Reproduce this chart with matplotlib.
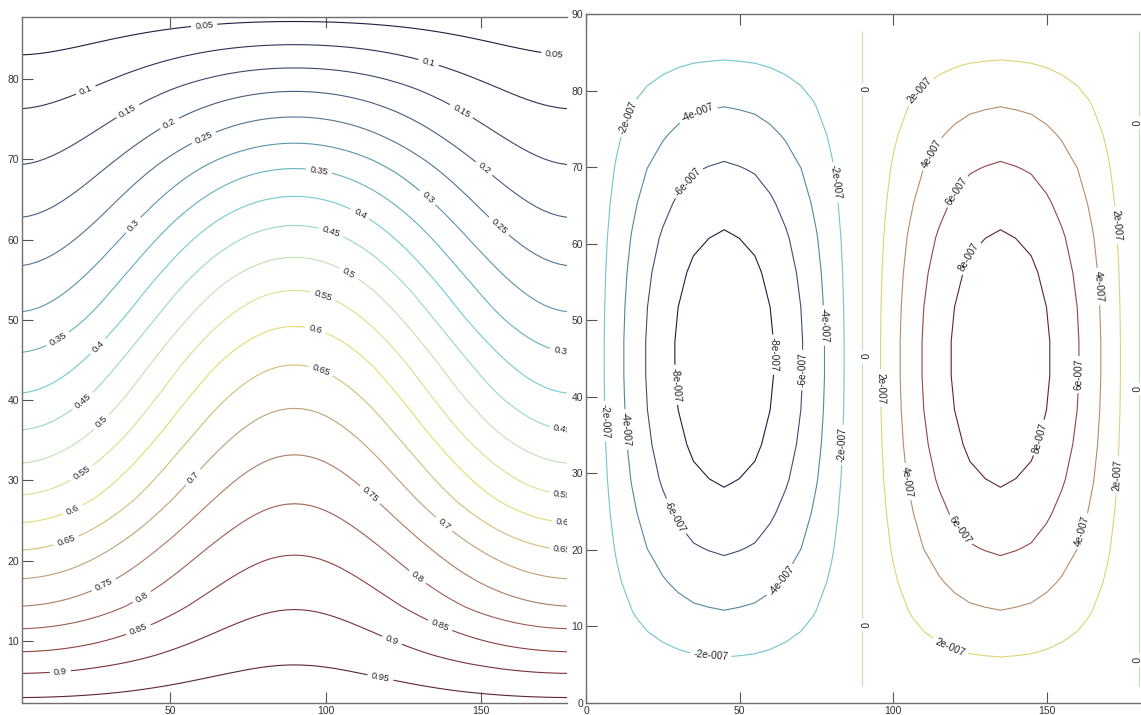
import matplotlib
matplotlib.use("Agg")
import matplotlib.pyplot as plt
import numpy as np
from matplotlib.colors import LinearSegmentedColormap, Normalize

plt.rcParams['font.family'] = ['Liberation Sans', 'DejaVu Sans']

# ---- left panel: contour levels and where each level crosses the edge
# column (x ~ 0 / 180) and the middle column (x ~ 90)
left_levels = [0.05, 0.10, 0.15, 0.20, 0.25, 0.30, 0.35, 0.40, 0.45, 0.50,
               0.55, 0.60, 0.65, 0.70, 0.75, 0.80, 0.85, 0.90, 0.95]
edge_height = [83.0, 76.3, 69.3, 62.7, 56.7, 50.9, 45.9, 40.8, 36.2, 32.1,
               28.1, 24.7, 21.3, 17.7, 14.3, 11.5, 8.6, 6.0, 2.9]
peak_height = [87.2, 84.3, 81.4, 78.5, 75.3, 72.0, 68.9, 65.4, 61.8, 57.8,
               53.7, 49.2, 44.4, 39.0, 33.2, 27.1, 20.7, 13.9, 7.0]

# ---- right panel: two cells, rings crossing the cell centre lines
right_levels = [-8e-7, -6e-7, -4e-7, -2e-7, 0.0, 2e-7, 4e-7, 6e-7, 8e-7]
cell_peak = 9.7e-7
# distance from the cell border (along the centre lines) and the fraction of
# the peak value reached there; the last two points are estimates inside the
# innermost ring
ring_dist_y = [0.0, 6.0, 12.0, 19.1, 27.8, 36.0, 45.0]
ring_dist_x = [0.0, 5.8, 12.0, 19.0, 28.0, 36.0, 45.0]
ring_frac = [0.0, 0.206, 0.412, 0.619, 0.825, 0.95, 1.0]

# muted jet-like colours as they look in the picture
line_colors = ['#1e1e3e', '#3a4468', '#4f6a8c', '#5aa2b2', '#78d0d6', '#bfe2b0',
               '#e6e270', '#c8ac7c', '#a8705a', '#8a3c40', '#5e2436']
cmap = LinearSegmentedColormap.from_list('faded_jet', line_colors)

fig = plt.figure(figsize=(11.41, 7.15), dpi=100)
ax1 = fig.add_axes([22 / 1141, 12 / 715, 545 / 1141, 686 / 715])
ax2 = fig.add_axes([586 / 1141, 12 / 715, 568 / 1141, 689 / 715])

# ---------------- left panel ----------------
lx = np.arange(2.5, 178, 2.5)
ly = np.linspace(2.25, 87.75, 58)
LX, LY = np.meshgrid(lx, ly)
lev_desc = left_levels[::-1]
f_edge = np.interp(LY, [0] + edge_height[::-1] + [90], [1] + lev_desc + [0])
f_peak = np.interp(LY, [0] + peak_height[::-1] + [90], [1] + lev_desc + [0])
w = (1 - np.cos(2 * np.pi * LX / 180)) / 2
LZ = f_edge * (1 - w) + f_peak * w

cs1 = ax1.contour(LX, LY, LZ, levels=left_levels, cmap=cmap,
                  norm=Normalize(left_levels[0], left_levels[-1]), linewidths=0.8)
left_label_pos = [(61, 86.6), (173.4, 83), (23.7, 78), (133, 82), (37, 75.7),
                  (143.1, 75.7), (49.9, 74.5), (150.1, 68.5), (61, 72.6),
                  (155.4, 61.6), (38.8, 61.6), (132, 64.9), (97.7, 68.3),
                  (14.3, 47.4), (110.5, 62.8), (27.7, 46.4), (101.2, 60.3),
                  (107, 55.5), (98.8, 52.6), (96.5, 48.5), (22.5, 39.7),
                  (28.9, 37), (21.9, 30.8), (19, 26.2), (17.2, 21.8), (58, 30.2),
                  (28.9, 16.9), (41.1, 15.4), (40, 11.3), (14.9, 5.7), (97.7, 43),
                  (114, 28.1), (137.3, 24.2), (128.6, 17.5), (136.7, 11.9),
                  (121, 9.8), (117.5, 5.2), (176, 36.2), (176, 28.3),
                  (176, 24.5), (176, 21.2), (176, 45.8)]
lab1 = ax1.clabel(cs1, manual=left_label_pos, fontsize=6.8, colors='#222222',
                  fmt=lambda v: '%g' % round(v, 2), inline_spacing=4)
for t in lab1:
    t.set_clip_on(True)

ax1.set_xlim(2.5, 177.5)
ax1.set_ylim(2.25, 87.75)
ax1.set_xticks([50, 100, 150])
ax1.set_yticks([10, 20, 30, 40, 50, 60, 70, 80])
ax1.spines['right'].set_visible(False)

# ---------------- right panel ----------------
rx = np.arange(0, 181, 5)
ry = np.arange(2.25, 88, 4.5)
RX, RY = np.meshgrid(rx, ry)
dx = np.minimum(RX % 90, 90 - RX % 90)
dy = np.minimum(RY, 90 - RY)
px = np.interp(dx, ring_dist_x, ring_frac)
py = np.interp(dy, ring_dist_y, ring_frac)
sign = np.where(RX < 90, -1.0, 1.0)
RZ = sign * cell_peak * px * py

cs2 = ax2.contour(RX, RY, RZ, levels=right_levels, cmap=cmap,
                  norm=Normalize(right_levels[0], right_levels[-1]), linewidths=0.8)


def matlab_fmt(v):
    if abs(v) < 1e-12:
        return '0'
    s = '%.0e' % v
    mant, exp = s.split('e')
    return '%se%s%03d' % (mant, exp[0], abs(int(exp)))


right_label_pos = [(15.4, 76.2), (37, 76.2), (33.4, 68), (80.9, 68), (76, 49.3),
                   (61.7, 45.5), (71.3, 43.5), (91, 80.2), (91, 45.3), (91, 10.2),
                   (110.3, 79.5), (113.3, 71.6), (121.2, 66.7), (124.8, 58.2),
                   (172.2, 62.4), (166.8, 54.4), (161.4, 42.9), (5.2, 36.8),
                   (11.8, 35.7), (27.4, 41.5), (28, 24.1), (63.5, 16), (40.6, 6.2),
                   (83.9, 33.7), (95.9, 41.1), (104.3, 28.9), (121.2, 22.4),
                   (148.2, 34.6), (162, 22.4), (173.4, 29.8), (118.8, 7.5),
                   (179.5, 75.8), (179.5, 41.1), (179.5, 5.7)]
lab2 = ax2.clabel(cs2, manual=right_label_pos, fontsize=7.2, colors='#222222',
                  fmt=matlab_fmt, inline_spacing=4)
# the labels on the x=180 line sit at the picture edge: nudge them inwards
for t in lab2:
    xt, yt = t.get_position()
    if xt > 175:
        t.set_position((xt - 1.6, yt))

ax2.set_xlim(0, 185)
ax2.set_ylim(0, 90)
ax2.set_xticks([0, 50, 100, 150])
ax2.set_yticks(np.arange(0, 91, 10))

for ax in (ax1, ax2):
    ax.tick_params(direction='in', length=8, width=0.8, color='#555555',
                   labelsize=7.5, labelcolor='#333333', top=True, pad=2)
    for sp in ax.spines.values():
        sp.set_color('#6e6e6e')
        sp.set_linewidth(1.0)
ax1.tick_params(right=False)

fig.savefig('out.png', dpi=100)
